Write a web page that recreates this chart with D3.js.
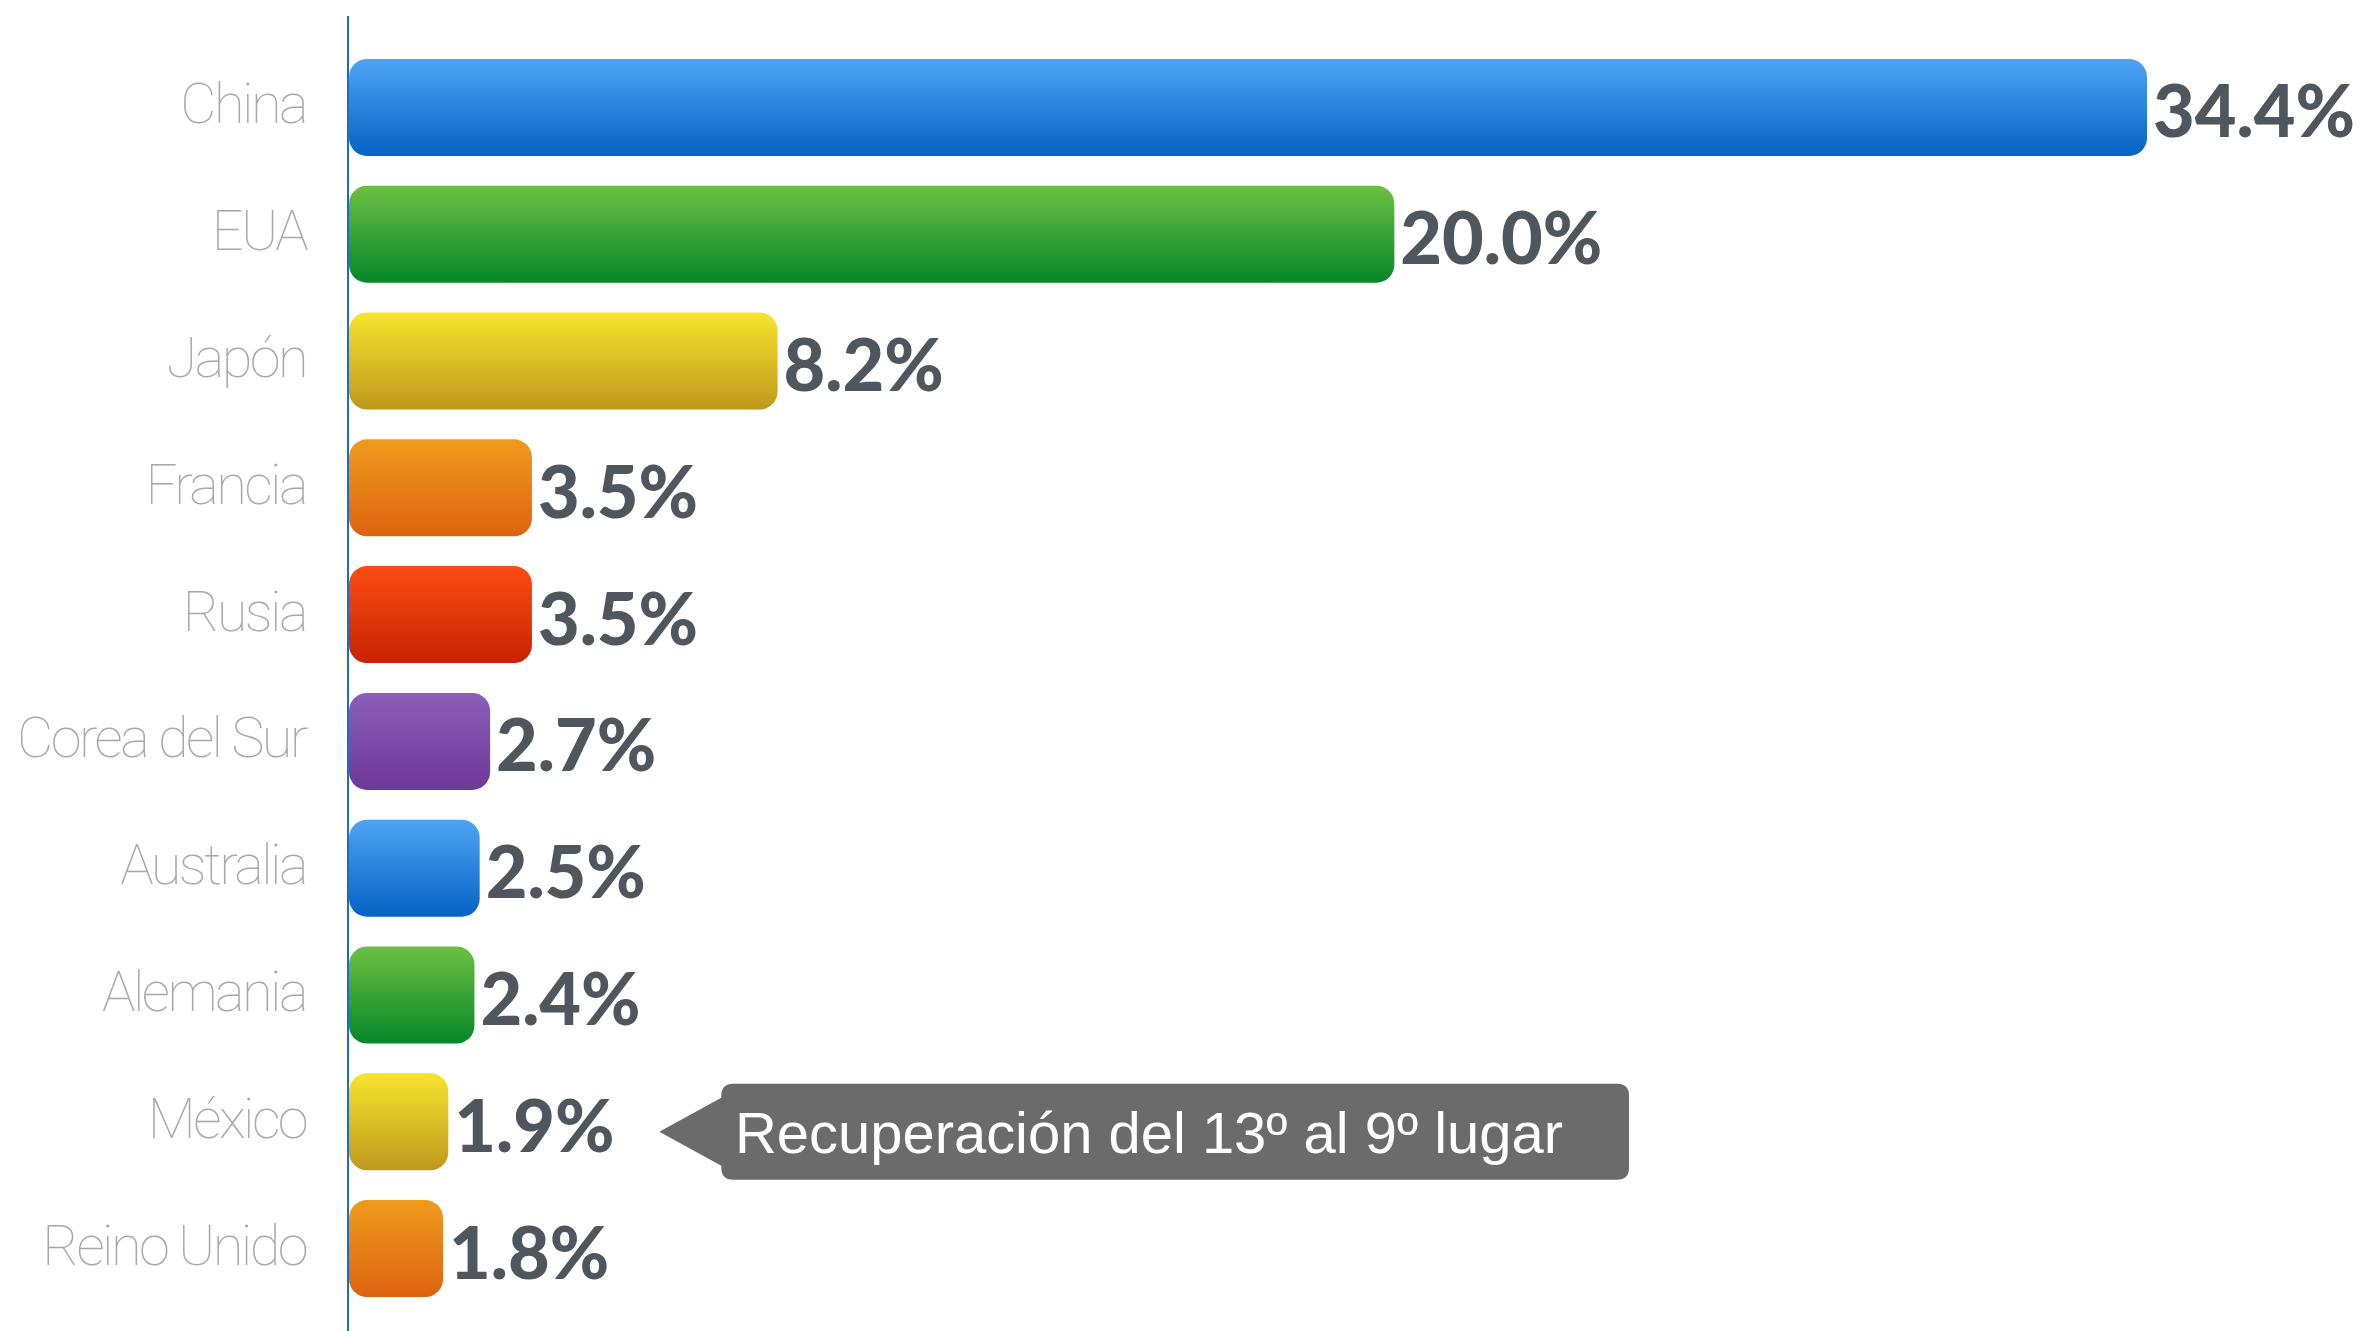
<!DOCTYPE html>
<html lang="es">
<head>
  <meta charset="UTF-8">
  <title>Participación por país</title>
  <script src="https://d3js.org/d3.v7.min.js"></script>
  <style>
    html, body { margin: 0; padding: 0; background: #fff; }
    svg { display: block; }
  </style>
</head>
<body>
  <div id="chart"></div>
  <script>
    // Data
    const countries = ["China", "EUA", "Japón", "Francia", "Rusia", "Corea del Sur", "Australia", "Alemania", "México", "Reino Unido"];
    const shares = [34.4, 20.0, 8.2, 3.5, 3.5, 2.7, 2.5, 2.4, 1.9, 1.8];
    const barColors = ["blue", "green", "yellow", "orange", "red", "purple", "blue", "green", "yellow", "orange"];
    const calloutText = "Recuperación del 13º al 9º lugar";
    const calloutCountry = "México";

    // gradient stops (top, bottom)
    const gradients = {
      blue:   ["#4fa4f6", "#0562c3"],
      green:  ["#6dc042", "#05872a"],
      yellow: ["#f7e42d", "#bf981d"],
      orange: ["#f09b1d", "#dc6310"],
      red:    ["#fc4d15", "#c82203"],
      purple: ["#8b5fba", "#6d3898"]
    };

    const width = 2363, height = 1331;
    const axisX = 349;

    const svg = d3.select("#chart").append("svg")
      .attr("width", width)
      .attr("height", height);

    const defs = svg.append("defs");
    Object.entries(gradients).forEach(([name, c]) => {
      const g = defs.append("linearGradient")
        .attr("id", "grad-" + name)
        .attr("x1", 0).attr("y1", 0).attr("x2", 0).attr("y2", 1);
      g.append("stop").attr("offset", "0%").attr("stop-color", c[0]);
      g.append("stop").attr("offset", "100%").attr("stop-color", c[1]);
    });

    const x = d3.scaleLinear().domain([0, 34.4]).range([axisX, 2147]);
    const y = d3.scaleBand()
      .domain(countries)
      .range([44, 1312])
      .paddingInner(0.235)
      .paddingOuter(0.1175);

    const rows = countries.map((c, i) => ({ name: c, value: shares[i], color: barColors[i] }));

    // bars
    svg.selectAll(".bar")
      .data(rows)
      .enter().append("rect")
      .attr("class", "bar")
      .attr("x", x(0))
      .attr("y", d => y(d.name))
      .attr("width", d => x(d.value) - x(0))
      .attr("height", y.bandwidth())
      .attr("rx", 18)
      .attr("fill", d => `url(#grad-${d.color})`);

    // axis line
    svg.append("line")
      .attr("x1", axisX - 1).attr("x2", axisX - 1)
      .attr("y1", 16).attr("y2", height)
      .attr("stroke", "#1a6cc4")
      .attr("stroke-width", 2);

    // category labels
    svg.selectAll(".cat")
      .data(rows)
      .enter().append("text")
      .attr("class", "cat")
      .attr("x", 306)
      .attr("y", d => y(d.name) + y.bandwidth() / 2 + 16)
      .attr("text-anchor", "end")
      .attr("font-family", "Roboto, 'Open Sans', sans-serif")
      .attr("font-weight", 100)
      .attr("font-size", 56)
      .attr("fill", "#a8a8a8")
      .attr("letter-spacing", -2.6)
      .text(d => d.name);

    // value labels
    svg.selectAll(".val")
      .data(rows)
      .enter().append("text")
      .attr("class", "val")
      .attr("x", d => x(d.value) + 6)
      .attr("y", d => y(d.name) + y.bandwidth() / 2 + 30)
      .attr("font-family", "Lato, 'Open Sans', sans-serif")
      .attr("font-weight", 900)
      .attr("font-size", 72)
      .attr("letter-spacing", 0)
      .attr("fill", "#50565d")
      .text(d => d.value.toFixed(1) + "%");

    // callout next to México
    const cy = y(calloutCountry) + y.bandwidth() / 2 + 10;
    const tipX = x(shares[countries.indexOf(calloutCountry)]) + 211;
    const boxL = tipX + 62, boxR = 1629, boxT = cy - 48, boxB = cy + 48, r = 12;
    const callout = svg.append("g").attr("class", "callout");
    const p = d3.path();
    p.moveTo(boxL + r, boxT);
    p.lineTo(boxR - r, boxT);
    p.quadraticCurveTo(boxR, boxT, boxR, boxT + r);
    p.lineTo(boxR, boxB - r);
    p.quadraticCurveTo(boxR, boxB, boxR - r, boxB);
    p.lineTo(boxL + r, boxB);
    p.quadraticCurveTo(boxL, boxB, boxL, boxB - r);
    p.lineTo(boxL, cy + 34);
    p.lineTo(tipX, cy);
    p.lineTo(boxL, cy - 34);
    p.lineTo(boxL, boxT + r);
    p.quadraticCurveTo(boxL, boxT, boxL + r, boxT);
    p.closePath();
    callout.append("path")
      .attr("d", p.toString())
      .attr("fill", "#6b6b6b");
    callout.append("text")
      .attr("x", 735)
      .attr("y", cy + 21)
      .attr("font-family", "'Liberation Sans', Arial, sans-serif")
      .attr("font-size", 57)
      .attr("fill", "#ffffff")
      .attr("textLength", 828)
      .attr("lengthAdjust", "spacingAndGlyphs")
      .text(calloutText);
  </script>
</body>
</html>
